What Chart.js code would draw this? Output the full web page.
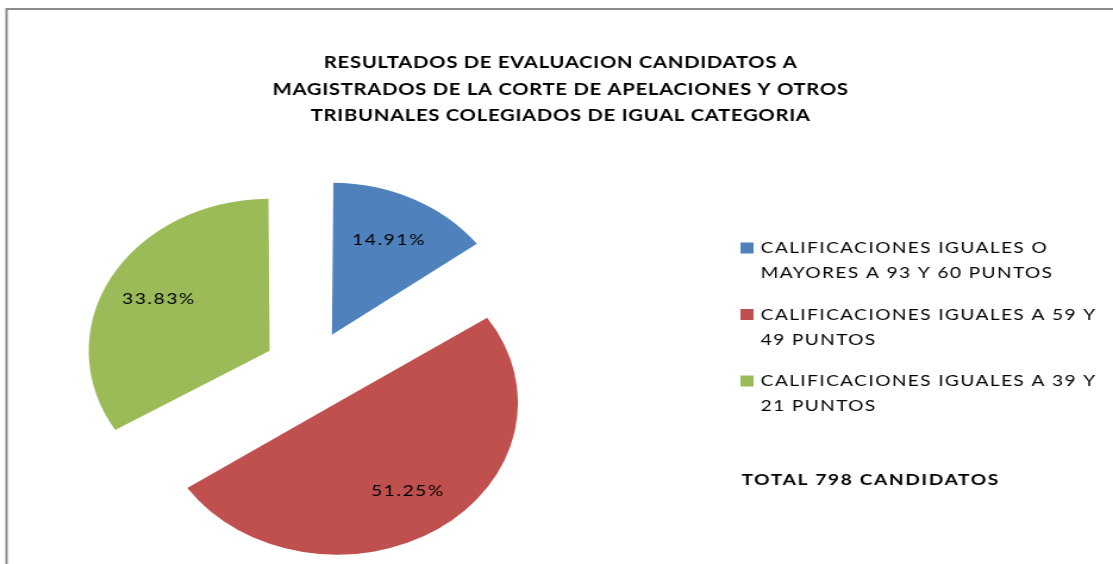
<!DOCTYPE html>
<html>
<head>
<meta charset="utf-8">
<script src="https://cdn.jsdelivr.net/npm/chart.js@4/dist/chart.umd.min.js"></script>
<style>
  body { margin: 0; background: #fff; overflow: hidden; }
  /* la imagen original esta estirada en horizontal */
  #wrap { width: 935px; height: 564px; transform: scaleX(1.1904); transform-origin: 0 0; }
</style>
</head>
<body>
<div id="wrap"><canvas id="myChart" width="935" height="564"></canvas></div>
<script>
const titulo = [
  'RESULTADOS DE EVALUACION CANDIDATOS A',
  'MAGISTRADOS DE LA CORTE DE APELACIONES Y OTROS',
  'TRIBUNALES COLEGIADOS DE IGUAL CATEGORIA'
];
const categorias = [
  ['CALIFICACIONES IGUALES O', 'MAYORES A 93 Y 60 PUNTOS'],
  ['CALIFICACIONES IGUALES A 59 Y', '49 PUNTOS'],
  ['CALIFICACIONES IGUALES A 39 Y', '21 PUNTOS']
];
const porcentajes = [14.91, 51.25, 33.83];
const colores = ['#4F81BD', '#C0504D', '#9BBB59'];
const total = 'TOTAL 798 CANDIDATOS';

const FONT = 'Lato, sans-serif';
const RADIO = 152;
const EXPLODE = 158; // chart.js mueve el sector offset/4

var ctx = document.getElementById("myChart").getContext('2d');

// el sector grande crece con el offset, se corrige el radio
const radioFijo = {
  id: 'radioFijo',
  beforeDatasetsDraw(chart) {
    chart.getDatasetMeta(0).data.forEach(el => {
      const circ = el.endAngle - el.startAngle;
      const fix = 1 - Math.sin(Math.min(Math.PI, circ));
      el.outerRadius = RADIO - (EXPLODE / 4) * fix;
    });
  }
};

const textos = {
  id: 'textos',
  afterDraw(chart) {
    const c = chart.ctx;
    c.save();
    // marco
    c.strokeStyle = '#8c8c8c';
    c.lineWidth = 2;
    c.beginPath();
    c.moveTo(5.5, 564);
    c.lineTo(5.5, 9);
    c.lineTo(935, 9);
    c.stroke();

    // titulo
    c.fillStyle = '#000';
    c.textAlign = 'center';
    c.textBaseline = 'middle';
    c.font = 'bold 17px ' + FONT;
    c.letterSpacing = '0.6px';
    titulo.forEach((t, i) => c.fillText(t, 471, 63 + i * 26.5));

    // porcentajes
    c.font = '16px ' + FONT;
    c.letterSpacing = '1.4px';
    chart.getDatasetMeta(0).data.forEach((el, i) => {
      const h = (el.startAngle + el.endAngle) / 2;
      const d = EXPLODE / 4 + RADIO * 0.7;
      c.fillText(porcentajes[i].toFixed(2) + '%', el.x + Math.cos(h) * d, el.y + Math.sin(h) * d);
    });

    // leyenda
    c.textAlign = 'left';
    c.font = '16px ' + FONT;
    c.letterSpacing = '1.2px';
    categorias.forEach((lineas, i) => {
      const y = 248 + i * 66.5;
      c.fillStyle = colores[i];
      c.fillRect(622, y - 5.5, 11, 11);
      c.fillStyle = '#000';
      lineas.forEach((l, j) => c.fillText(l, 639, y + j * 25));
    });

    c.font = 'bold 16px ' + FONT;
    c.letterSpacing = '1.4px';
    c.fillText(total, 623, 480);
    c.restore();
  }
};

var myChart = new Chart(ctx, {
  type: 'pie',
  data: {
    labels: categorias,
    datasets: [{
      data: porcentajes,
      backgroundColor: colores,
      borderWidth: 0,
      offset: EXPLODE
    }]
  },
  options: {
    responsive: false,
    animation: false,
    radius: RADIO,
    layout: { padding: { left: 10, right: 423, top: 180, bottom: 4 } },
    plugins: {
      legend: { display: false },
      title: { display: false },
      tooltip: { enabled: false }
    }
  },
  plugins: [radioFijo, textos]
});
</script>
</body>
</html>
